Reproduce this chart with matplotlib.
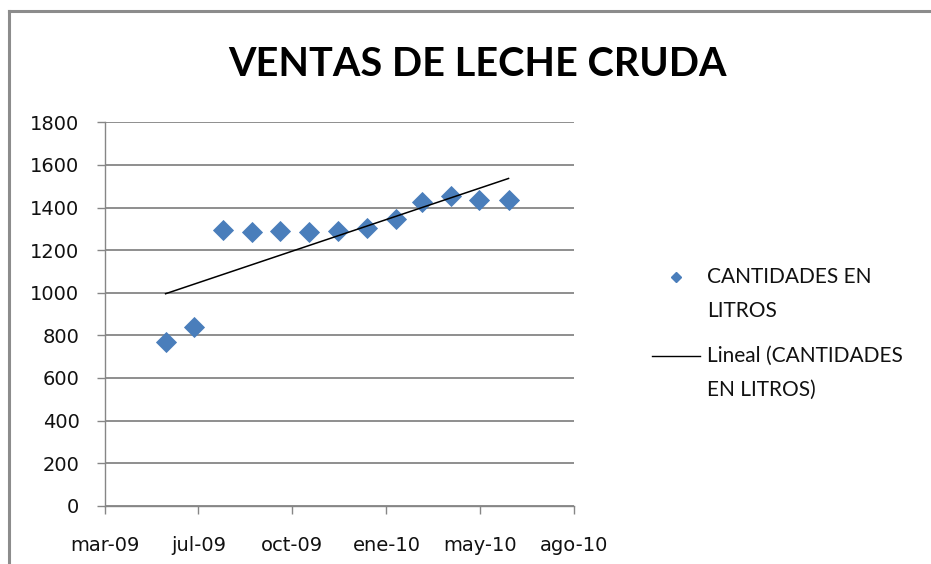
import numpy as np
import pandas as pd
import matplotlib
matplotlib.use('Agg')
from matplotlib import pyplot as plt
from matplotlib.lines import Line2D
import matplotlib.dates as mdates

# datos
fechas = ['2009-06-01', '2009-07-01', '2009-08-01', '2009-09-01', '2009-10-01',
          '2009-11-01', '2009-12-01', '2010-01-01', '2010-02-01', '2010-03-01',
          '2010-04-01', '2010-05-01', '2010-06-01']
cantidades = [770, 840, 1294, 1284, 1290, 1284, 1292, 1305, 1345, 1426, 1456, 1437, 1437]

x_min = '2009-03-28'
x_max = '2010-08-10'
x_etiquetas = ['mar-09', 'jul-09', 'oct-09', 'ene-10', 'may-10', 'ago-10']
y_ticks = [0, 200, 400, 600, 800, 1000, 1200, 1400, 1600, 1800]
leyenda = ['CANTIDADES EN\nLITROS', 'Lineal (CANTIDADES\nEN LITROS)']

plt.rcParams['font.family'] = ['Lato', 'DejaVu Sans']
azul = '#4a7ebb'

df = pd.DataFrame({'fecha': pd.to_datetime(fechas), 'litros': cantidades})
xnum = mdates.date2num(df['fecha'])

fig = plt.figure(figsize=(9.31, 5.64), dpi=100)
ax = fig.add_axes([104.5/931, 1-505.7/564, (574.3-104.5)/931, (505.7-122.3)/564])

ax.plot(df['fecha'], df['litros'], linestyle='none', marker='D', markersize=10,
        markeredgewidth=0.6, color=azul, zorder=3)

# linea de tendencia lineal
coef = np.polyfit(xnum, df['litros'], 1)
ax.plot(df['fecha'], np.polyval(coef, xnum), color='black', linewidth=1.1, zorder=4)

lo = mdates.date2num(pd.Timestamp(x_min))
hi = mdates.date2num(pd.Timestamp(x_max))
ax.set_xlim(lo, hi)
ax.set_xticks(np.linspace(lo, hi, len(x_etiquetas)))
ax.set_xticklabels(x_etiquetas)
ax.set_ylim(0, 1800)
ax.set_yticks(y_ticks)

ax.grid(axis='y', color='#868686', linewidth=1.3)
ax.set_axisbelow(True)
for s in ['top', 'right']:
    ax.spines[s].set_visible(False)
for s in ['left', 'bottom']:
    ax.spines[s].set_color('#868686')
    ax.spines[s].set_linewidth(1.0)
ax.tick_params(axis='both', colors='#868686', length=6, width=1.0, labelsize=14,
               labelcolor='#111111')
ax.tick_params(axis='y', pad=12)
ax.tick_params(axis='x', pad=16)
for lab in ax.get_xticklabels() + ax.get_yticklabels():
    lab.set_family('DejaVu Sans')

fig.text(0.513, 1-76/564, 'VENTAS DE LECHE CRUDA', ha='center', va='baseline',
         fontsize=28.5, fontweight='bold')

# leyenda (simbolo alineado con la primera linea del texto, como en Excel)
fy1 = 1-277/564
fy2 = 1-356/564
fig.add_artist(Line2D([676/931], [fy1], linestyle='none', marker='D', markersize=5.5,
                      color=azul))
fig.add_artist(Line2D([652/931, 700/931], [fy2, fy2], color='black', linewidth=1.0))
for yy, txt in zip([fy1, fy2], leyenda):
    fig.text(707/931, yy + 10/564, txt, ha='left', va='top', fontsize=15,
             color='#111111', linespacing=1.88)

# marco del grafico
fig.add_artist(Line2D([9/931, 9/931], [0, 1-11/564], color='#8c8c8c', linewidth=2.2))
fig.add_artist(Line2D([9/931, 1], [1-11/564, 1-11/564], color='#8c8c8c', linewidth=2.2))

fig.savefig('out.png', dpi=100)
